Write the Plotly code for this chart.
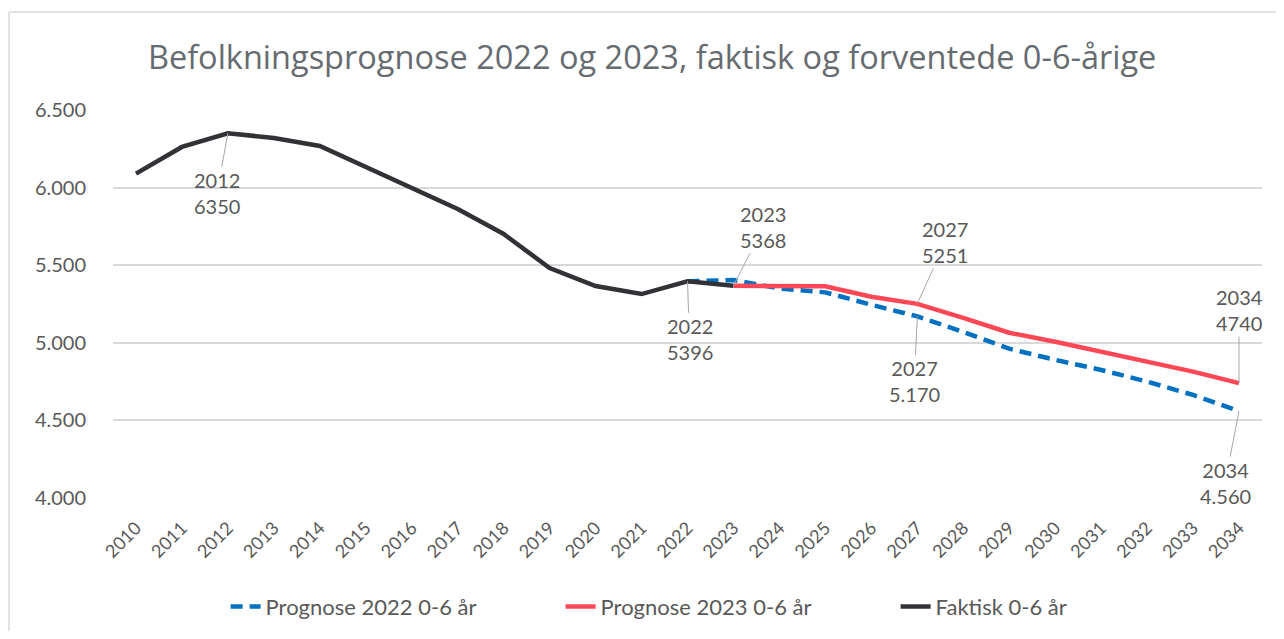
import plotly.graph_objects as go

years = [str(y) for y in range(2010, 2035)]

faktisk = [6090, 6262, 6350, 6320, 6268, 6133, 5997, 5862, 5701, 5482, 5366, 5314, 5396, 5368]
prognose_2022 = [5396, 5405, 5350, 5325, 5245, 5170, 5070, 4962, 4890, 4825, 4750, 4664, 4560]
prognose_2023 = [5368, 5366, 5364, 5297, 5251, 5160, 5065, 5007, 4943, 4879, 4814, 4740]

faktisk_full = faktisk + [None] * (25 - len(faktisk))
p22_full = [None] * 12 + prognose_2022
p23_full = [None] * 13 + prognose_2023

# annotations: (year, value, text, ax, ay)
labels = [
    ("2012", 6350, "2012<br>6350", -11, 60),
    ("2022", 5396, "2022<br>5396", 2, 58),
    ("2023", 5368, "2023<br>5368", 30, -59),
    ("2027", 5251, "2027<br>5251", 28, -62),
    ("2027", 5170, "2027<br>5.170", -3, 65),
    ("2034", 4740, "2034<br>4740", 0, -73),
    ("2034", 4560, "2034<br>4.560", -14, 72),
]

FONT = "Lato"
TXT = "#595959"

fig = go.Figure()
fig.add_trace(go.Scatter(x=years, y=p22_full, mode="lines", name="Prognose 2022 0-6 år",
                         line=dict(color="#0070c0", width=4.5, dash="12px,7px")))
fig.add_trace(go.Scatter(x=years, y=p23_full, mode="lines", name="Prognose 2023 0-6 år",
                         line=dict(color="#ff4756", width=4.5)))
fig.add_trace(go.Scatter(x=years, y=faktisk_full, mode="lines", name="Faktisk 0-6 år",
                         line=dict(color="#303236", width=4.5)))

for yr, v, t, ax, ay in labels:
    fig.add_annotation(x=years.index(yr), y=v, xref="x", yref="y", text=t,
                       showarrow=True, arrowhead=0, arrowwidth=1,
                       arrowcolor="#a6a6a6", ax=ax, ay=ay, axref="pixel", ayref="pixel",
                       font=dict(family=FONT, size=20, color=TXT))

# chart frame
fig.add_shape(type="line", xref="paper", yref="paper", x0=-0.0905, x1=1.03, y0=1.2526, y1=1.2526,
              line=dict(color="#d9d9d9", width=1.5))
fig.add_shape(type="line", xref="paper", yref="paper", x0=-0.0905, x1=-0.0905, y0=1.2526, y1=-0.4,
              line=dict(color="#d9d9d9", width=1.5))

fig.update_layout(
    width=1268, height=623,
    margin=dict(l=105, r=14, t=102, b=133, autoexpand=False),
    paper_bgcolor="white", plot_bgcolor="white",
    separators=",.",
    font=dict(family=FONT, color=TXT),
    title=dict(text="Befolkningsprognose 2022 og 2023, faktisk og forventede 0-6-årige",
               x=0.508, xanchor="center", y=0.92, yanchor="middle",
               font=dict(family="Open Sans", size=32.5, color="#666b70")),
    showlegend=True,
    legend=dict(orientation="h", x=0.098, xanchor="left", y=-0.28, yanchor="middle",
                font=dict(family=FONT, size=22, color=TXT), entrywidth=290,
                entrywidthmode="pixels", tracegroupgap=0),
    xaxis=dict(type="category", range=[-0.5, 24.5], tickangle=-45, showgrid=False,
               showline=False, ticks="", ticklabelstandoff=15,
               tickfont=dict(family=FONT, size=18, color=TXT)),
    yaxis=dict(range=[4000, 6500], dtick=500, tickformat=",d", showgrid=True,
               gridcolor="#d9d9d9", gridwidth=1.5, zeroline=False, showline=False,
               ticks="", ticklabelstandoff=26,
               tickfont=dict(family=FONT, size=20, color=TXT)),
)

fig.write_html("out.html")
